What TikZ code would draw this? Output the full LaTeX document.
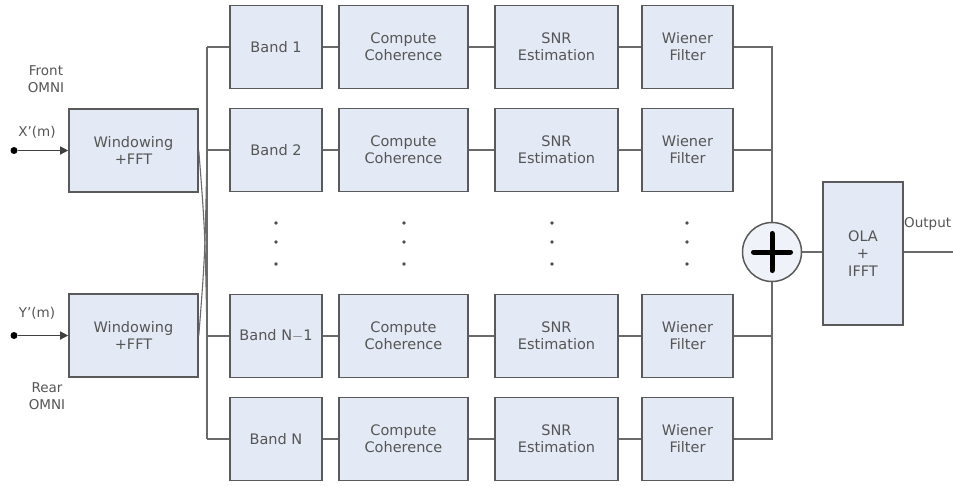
\documentclass[tikz,border=0pt]{standalone}
\usepackage{fontspec}
\setmainfont{DejaVu Sans}
\usetikzlibrary{arrows.meta,calc}
\definecolor{boxfill}{HTML}{E4EAF5}
\definecolor{boxdraw}{HTML}{5A5A5A}
\definecolor{wire}{HTML}{6A6A6A}
\definecolor{txt}{HTML}{555555}
\tikzset{
  blk/.style={draw=boxdraw, line width=1.6pt, fill=boxfill, minimum height=83pt, inner sep=0pt, align=center, text=txt, font=\fontsize{14.5}{17}\selectfont},
  wr/.style={draw=wire, line width=1.3pt},
  lbl/.style={text=txt, font=\fontsize{13.5}{16.5}\selectfont, align=center, inner sep=0pt},
  dotm/.style={circle, fill=black!70, inner sep=0pt, minimum size=3.6pt}
}
\begin{document}
\begin{tikzpicture}[x=1pt,y=-1pt]
\useasboundingbox (0,0) rectangle (953,485);
% rows
\foreach \r/\y/\b in {1/47/Band 1, 2/150/Band 2, 3/336/Band N$-$1, 4/439/Band N}{
  \node[blk, minimum width=92pt] (band\r) at (276,\y) {\b};
  \node[blk, minimum width=129pt] (cc\r) at (403.5,\y) {Compute\\Coherence};
  \node[blk, minimum width=123pt] (snr\r) at (556.5,\y) {SNR\\Estimation};
  \node[blk, minimum width=91pt] (wf\r) at (687.5,\y) {Wiener\\Filter};
  \coordinate (bl\r) at (207,\y);
  \coordinate (br\r) at (772,\y);
  \draw[wr] (bl\r) -- (band\r.west);
  \draw[wr] (band\r.east) -- (cc\r.west);
  \draw[wr] (cc\r.east) -- (snr\r.west);
  \draw[wr] (snr\r.east) -- (wf\r.west);
}
\draw[wr] (bl1) -- (bl4);
% windowing
\node[blk, minimum width=129pt] (win1) at (133.5,150.5) {Windowing\\+FFT};
\node[blk, minimum width=129pt] (win2) at (133.5,335.5) {Windowing\\+FFT};
\draw[wr, line width=1.1pt] (win1.east) .. controls (205,230) .. (bl3);
\draw[wr, line width=1.1pt] (win2.east) .. controls (205,256) .. (bl2);
% inputs
\node[circle, fill=black, inner sep=0pt, minimum size=7pt] (inx) at (14,150.5) {};
\node[circle, fill=black, inner sep=0pt, minimum size=7pt] (iny) at (14,335.5) {};
\draw[wr, draw=black!75, -{Triangle[length=8pt,width=8pt]}] (inx) -- (win1.west);
\draw[wr, draw=black!75, -{Triangle[length=8pt,width=8pt]}] (iny) -- (win2.west);
\node[lbl] (xl) at (37,132) {X'(m)};
\node[lbl] (yl) at (37,313) {Y'(m)};
\node[lbl] (front) at (46,79) {Front\\OMNI};
\node[lbl] (rear) at (47,396) {Rear\\OMNI};
% dots
\foreach \x in {276,404,552,687}{
  \foreach \y in {223,242,264}{
    \node[dotm] at (\x,\y) {};
  }
}
% summation
\node[circle, draw=boxdraw, line width=1.5pt, fill=boxfill!60, minimum size=59pt, inner sep=0pt] (sum) at (772,252) {};
\draw[line width=5pt, line cap=round] ($(sum.center)+(-18.5,0)$) -- ($(sum.center)+(18.5,0)$);
\draw[line width=5pt, line cap=round] ($(sum.center)+(0,-18.5)$) -- ($(sum.center)+(0,18.5)$);
\draw[wr] (wf1.east) -- (br1) -- (sum.north);
\draw[wr] (wf2.east) -- (br2);
\draw[wr] (wf3.east) -- (br3);
\draw[wr] (wf4.east) -- (br4) -- (sum.south);
% OLA
\node[blk, minimum width=80pt, minimum height=143pt, font=\fontsize{14.5}{17.5}\selectfont] (ola) at (863,253.5) {OLA\\+\\IFFT};
\draw[wr] (sum.east) -- (ola.west |- sum.east);
\coordinate (out) at (953,252);
\draw[wr] (ola.east |- sum.east) -- (out);
\node[lbl, anchor=west] (outl) at (904,224) {Output};
\end{tikzpicture}
\end{document}
